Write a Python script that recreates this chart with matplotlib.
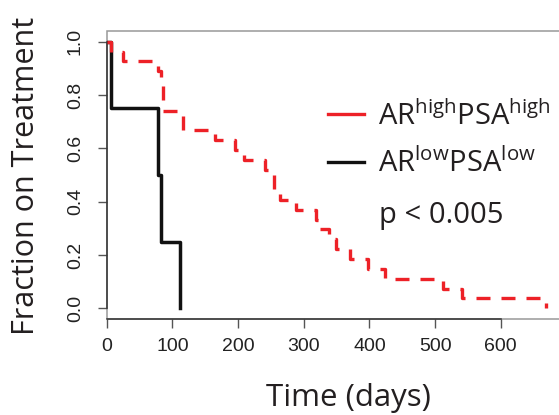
"""Kaplan-Meier style curves of fraction of patients still on treatment."""
import matplotlib

matplotlib.use("Agg")
import matplotlib.pyplot as plt
from matplotlib.lines import Line2D
from matplotlib.patches import Rectangle

# step points: (days, fraction still on treatment)
HIGH_DAYS = [0, 7, 25, 78, 82, 85, 116, 165, 196, 209, 241, 255, 264, 288,
             319, 322, 339, 349, 371, 398, 424, 512, 541, 669]
HIGH_FRAC = [1.0, 0.963, 0.926, 0.889, 0.852, 0.741, 0.667, 0.630, 0.593, 0.556,
             0.519, 0.444, 0.407, 0.370, 0.333, 0.296, 0.259, 0.222, 0.185,
             0.148, 0.111, 0.074, 0.037, 0.0]
LOW_DAYS = [0, 7, 78, 82, 112]
LOW_FRAC = [1.0, 0.75, 0.5, 0.25, 0.0]

X_TICKS = [0, 100, 200, 300, 400, 500, 600]
Y_TICKS = [0.0, 0.2, 0.4, 0.6, 0.8, 1.0]
LABELS = [r"AR$^{\mathrm{high}}$PSA$^{\mathrm{high}}$", r"AR$^{\mathrm{low}}$PSA$^{\mathrm{low}}$"]
P_TEXT = "p < 0.005"

RED = "#ed2127"
BLACK = "#111111"
TEXT = "#231f20"

W, H = 559, 415


def main() -> None:
    plt.rcParams["font.family"] = ["Open Sans", "DejaVu Sans"]
    plt.rcParams["mathtext.fontset"] = "custom"
    plt.rcParams["mathtext.rm"] = "Open Sans"

    fig = plt.figure(figsize=(W / 100, H / 100), dpi=100)
    left, right, top, bottom = 106.7, 590, 31, 319
    ax = fig.add_axes([left / W, 1 - bottom / H, (right - left) / W, (bottom - top) / H])

    ax.step(LOW_DAYS, LOW_FRAC, where="post", color=BLACK, lw=2.5, zorder=2)
    ax.step(HIGH_DAYS, HIGH_FRAC, where="post", color=RED, lw=2.4,
            dashes=(4.2, 3.3), zorder=3)

    ax.set_xlim(0, (right - left) / 0.6567)
    ax.set_ylim(-0.04, 1.04)
    ax.set_xticks(X_TICKS)
    ax.set_yticks(Y_TICKS)
    ax.set_xticklabels([str(v) for v in X_TICKS], family="Liberation Sans", fontsize=14, color="#222")
    ax.set_yticklabels([f"{v:.1f}" for v in Y_TICKS], family="Liberation Sans", fontsize=14,
                       color="#222", rotation=90, va="center")
    ax.tick_params(axis="both", length=6.5, width=1.0, color="#555")
    ax.tick_params(axis="x", pad=7)
    ax.tick_params(axis="y", pad=10)

    # R-style: gray box, darker axis lines only over the tick range
    for side in ("top", "right"):
        ax.spines[side].set_visible(False)
    ax.spines["bottom"].set_bounds(0, 600)
    ax.spines["left"].set_bounds(0, 1)
    for side in ("bottom", "left"):
        ax.spines[side].set_color("#333")
        ax.spines[side].set_linewidth(1.1)
    ax.add_patch(Rectangle((0, 0), 1, 1, transform=ax.transAxes, fill=False,
                           ec="#999", lw=1.1, clip_on=False, zorder=1))

    ax.set_xlabel("Time (days)", fontsize=22.5, color=TEXT)
    ax.set_ylabel("Fraction on Treatment", fontsize=22, color=TEXT)
    ax.xaxis.set_label_coords(0.5, -0.222)
    ax.yaxis.set_label_coords(-0.136, 0.497)

    handles = [Line2D([], [], color=RED, lw=2.4), Line2D([], [], color=BLACK, lw=2.4)]
    fig.legend(handles, LABELS, loc="upper left", bbox_to_anchor=(328 / W, 1 - 101 / H),
               frameon=False, fontsize=21, handlelength=1.25, handletextpad=0.45,
               labelspacing=0.58, borderpad=0, borderaxespad=0, labelcolor=TEXT)
    fig.text(379 / W, 1 - 223 / H, P_TEXT, fontsize=21, color=TEXT, va="baseline")

    fig.savefig("out.png", dpi=100)
    plt.close(fig)


if __name__ == "__main__":
    main()
